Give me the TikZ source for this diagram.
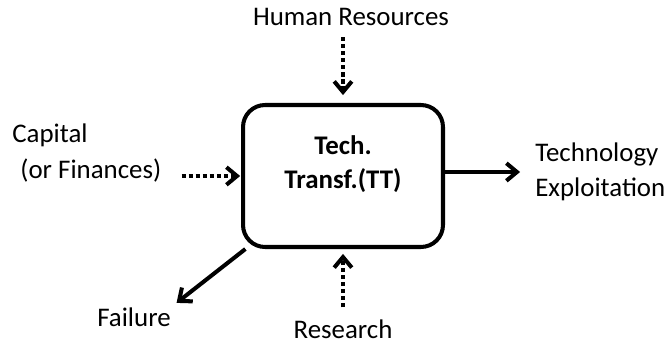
\documentclass[tikz,border=0pt]{standalone}
\usepackage{fontspec}
\setmainfont{Carlito}
\usetikzlibrary{arrows.meta}

\tikzset{
  lbl/.style={font=\fontsize{15.3}{20}\selectfont, align=left, inner sep=0pt},
  flow/.style={line width=2.3pt, -{Straight Barb[length=6pt,width=10pt,line width=2.3pt]}},
  dotflow/.style={flow, dash pattern=on 2.4pt off 1.6pt},
}

\begin{document}
\begin{tikzpicture}[x=0.02cm, y=-0.02cm]

\useasboundingbox (0,0) rectangle (666,345);

\node (tt) at (343,176) [rectangle, draw, line width=2.3pt, rounded corners=0.44cm,
  minimum width=4cm, minimum height=2.84cm, align=center,
  font=\fontsize{15.3}{19.5}\selectfont\bfseries] {Tech.\\Transf.(TT)\\[-4pt]\mbox{}};

\node (hr) at (351,17) [lbl] {Human Resources};
\node (capital) at (12,153) [lbl, anchor=west] {Capital\\\hspace{0.3em}(or Finances)};
\node (exploit) at (535,172) [lbl, anchor=west] {Technology\\Exploitation};
\node (fail) at (134,317) [lbl] {Failure};
\node (research) at (343,329) [lbl] {Research};

\draw[dotflow, shorten <=6.3pt, shorten >=4.5pt] (tt.north |- hr.south) -- (tt.north);
\draw[dotflow, shorten <=11.4pt, shorten >=0.5pt] (capital.east |- tt.west) -- (tt.west);
\draw[dotflow, shorten <=6.8pt, shorten >=2.8pt] (research.north) -- (tt.south);
\draw[flow, shorten >=8.5pt] (tt.east |- exploit.west) -- (exploit.west);
\draw[flow, shorten >=4pt] ([xshift=2.5pt]tt.south west) -- (fail.north east);

\end{tikzpicture}
\end{document}
